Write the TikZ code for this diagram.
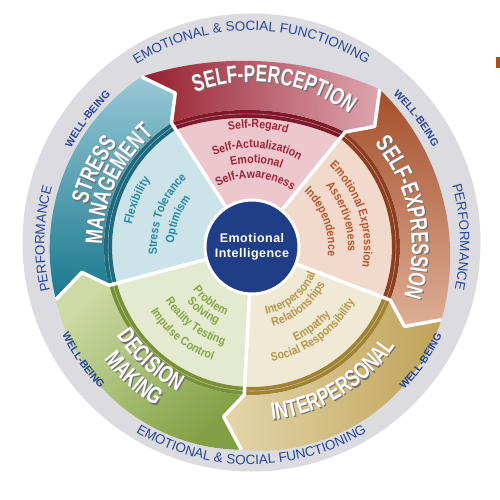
\documentclass[tikz,border=0pt]{standalone}
\usepackage{fontspec}
\setmainfont{Liberation Sans}
\newfontfamily\titlefont[FakeStretch=0.72]{Liberation Sans}
\newfontfamily\itemfont[FakeStretch=0.88]{Liberation Sans}
\usetikzlibrary{decorations.text}

\definecolor{greyband}{RGB}{220,220,224}
\definecolor{navy}{RGB}{40,70,150}
\definecolor{einavy}{RGB}{32,62,135}
\definecolor{spdark}{RGB}{150,30,45}
\definecolor{spmid}{RGB}{170,45,65}
\definecolor{splight}{RGB}{222,165,176}
\definecolor{spring}{RGB}{125,25,40}
\definecolor{spin}{RGB}{236,199,206}
\definecolor{sptext}{RGB}{160,35,55}
\definecolor{smlight}{RGB}{150,200,212}
\definecolor{smdark}{RGB}{26,120,142}
\definecolor{smring}{RGB}{30,105,125}
\definecolor{smin}{RGB}{203,227,233}
\definecolor{smtext}{RGB}{40,135,160}
\definecolor{dmlight}{RGB}{205,218,165}
\definecolor{dmdark}{RGB}{130,160,68}
\definecolor{dmring}{RGB}{120,145,55}
\definecolor{dmin}{RGB}{228,234,208}
\definecolor{dmtext}{RGB}{135,165,70}
\definecolor{iplight}{RGB}{228,214,170}
\definecolor{ipdark}{RGB}{180,146,60}
\definecolor{ipring}{RGB}{160,130,50}
\definecolor{ipin}{RGB}{239,233,213}
\definecolor{iptext}{RGB}{180,152,75}
\definecolor{sedark}{RGB}{165,78,42}
\definecolor{semid}{RGB}{178,92,52}
\definecolor{selight}{RGB}{222,175,150}
\definecolor{sering}{RGB}{140,62,30}
\definecolor{sein}{RGB}{241,217,203}
\definecolor{setext}{RGB}{180,88,45}

\newcommand{\titlefmt}{\titlefont\bfseries\fontsize{24}{24}\selectfont}
\newcommand{\itemfmt}{\itemfont\bfseries\fontsize{12}{12}\selectfont}
\newcommand{\ringfmt}{\fontsize{13.5}{14}\selectfont\color{navy}}
\newcommand{\wellfmt}{\bfseries\fontsize{10.5}{11}\selectfont\color{navy}}

% text on an arc: clockwise (tops out) and counterclockwise (tops in)
\newcommand{\cwtext}[4]{%
  \path[decorate,decoration={text along path,text align=center,text={|#3|#4}}]
    ({#1+80}:#2pt) arc[start angle={#1+80},end angle={#1-80},radius=#2pt];}
\newcommand{\ccwtext}[4]{%
  \path[decorate,decoration={text along path,text align=center,text={|#3|#4}}]
    ({#1-80}:#2pt) arc[start angle={#1-80},end angle={#1+80},radius=#2pt];}
\newcommand{\titlecw}[3]{%
  \begin{scope}[shift={(1.2,-1.2)}]\cwtext{#1}{#2}{\titlefmt\color{black!55}}{#3}\end{scope}
  \cwtext{#1}{#2}{\titlefmt\color{white}}{#3}}
\newcommand{\titleccw}[3]{%
  \begin{scope}[shift={(1.2,-1.2)}]\ccwtext{#1}{#2}{\titlefmt\color{black!55}}{#3}\end{scope}
  \ccwtext{#1}{#2}{\titlefmt\color{white}}{#3}}

% one wedge: start angle, outer radius at middle, ring dip, band shading, ring, inner colour
\newcommand{\segment}[6]{%
  \pgfmathsetmacro\segend{#1+72}
  \def\dipr##1##2{##1-#3*(1-((##2-(#1)-36)/36)^2)}
  \fill[#6] (0,0) -- plot[domain=#1:\segend,samples=30] (\x:{\dipr{140}{\x}}) -- cycle;
  \fill[#5] plot[domain=#1:\segend,samples=30] (\x:{\dipr{140}{\x}})
    -- plot[domain=\segend:#1,samples=30] (\x:{\dipr{148}{\x}}) -- cycle;
  \draw[white,opacity=.45,line width=.6pt] plot[domain=#1:\segend,samples=30] (\x:{\dipr{144}{\x}});
  \path[#4] ({#1}:148pt) -- ({#1-6.5}:172pt) -- ({#1}:203pt)
    -- plot[domain=#1:\segend,samples=30] (\x:{#2+(203-#2)*((\x-(#1)-36)/36)^2})
    -- ({#1+65.5}:172pt) -- (\segend:148pt)
    -- plot[domain=\segend:#1,samples=30] (\x:{\dipr{148}{\x}}) -- cycle;}

\begin{document}
\begin{tikzpicture}[x=1pt,y=1pt,
  sepline/.style={white,line width=3.5pt,line join=round},
  eicircle/.style={circle,fill=einavy,draw=white,line width=3pt,minimum size=94pt,
    inner sep=0pt,text=white,align=center,font=\bfseries\fontsize{12.5}{15.5}\selectfont}]
\useasboundingbox (0,0) rectangle (500,499);
\fill[white] (0,0) rectangle (500,499);
\fill[sedark] (496,431) rectangle (500,442);
\begin{scope}[shift={(252,252)}]
  \fill[greyband] (-0.5,4.5) circle[radius=229pt];
  \segment{51}{186}{11}{left color=spdark,middle color=spmid,right color=splight}{spring}{spin}
  \segment{123}{202}{0}{top color=smlight,bottom color=smdark}{smring}{smin}
  \segment{195}{206}{0}{top color=dmlight,bottom color=dmdark,shading angle=45}{dmring}{dmin}
  \segment{-93}{206}{0}{left color=iplight,middle color=ipdark,right color=ipdark!85!white}{ipring}{ipin}
  \segment{-21}{197}{0}{top color=sedark,middle color=semid,bottom color=selight}{sering}{sein}
  \foreach \b in {123,51,-21,-93,-165}
    \draw[sepline] (\b:203pt) -- ({\b-6.5}:172pt) -- (\b:148pt) -- (\b:40pt);
  \node[eicircle] (ei) at (0,0) {\addfontfeature{LetterSpace=4}Emotional\\\addfontfeature{LetterSpace=4}Intelligence};
  % outer ring words
  \begin{scope}[shift={(-0.5,4.5)}]
    \cwtext{90}{212}{\ringfmt}{EMOTIONAL {\&} SOCIAL FUNCTIONING}
    \ccwtext{270}{222}{\ringfmt}{EMOTIONAL {\&} SOCIAL FUNCTIONING}
    \cwtext{179}{207}{\ringfmt}{PERFORMANCE}
    \cwtext{1.5}{208.5}{\ringfmt}{PERFORMANCE}
    \cwtext{143}{203.5}{\wellfmt}{WELL-BEING}
    \cwtext{37}{205}{\wellfmt}{WELL-BEING}
    \ccwtext{215}{210.5}{\wellfmt}{WELL-BEING}
    \ccwtext{325}{212}{\wellfmt}{WELL-BEING}
  \end{scope}
  % composite titles
  \titlecw{82}{165}{SELF-PERCEPTION}
  \titlecw{154}{170}{STRESS}
  \titlecw{155}{150}{MANAGEMENT}
  \titlecw{11}{160}{SELF-EXPRESSION}
  \titleccw{301}{174}{INTERPERSONAL}
  \titleccw{228}{162}{DECISION}
  \titleccw{228}{186}{MAKING}
  % subscales
  \cwtext{87}{119}{\itemfmt\color{sptext}}{Self-Regard}
  \cwtext{87}{99}{\itemfmt\color{sptext}}{Self-Actualization}
  \cwtext{87}{84}{\itemfmt\color{sptext}}{Emotional}
  \cwtext{87}{69}{\itemfmt\color{sptext}}{Self-Awareness}
  \cwtext{158}{122}{\itemfmt\color{smtext}}{Flexibility}
  \cwtext{159}{95}{\itemfmt\color{smtext}}{Stress Tolerance}
  \cwtext{159.5}{78}{\itemfmt\color{smtext}}{Optimism}
  \cwtext{18}{112}{\itemfmt\color{setext}}{Emotional Expression}
  \cwtext{18.5}{96}{\itemfmt\color{setext}}{Assertiveness}
  \cwtext{20}{76}{\itemfmt\color{setext}}{Independence}
  \ccwtext{309.5}{69}{\itemfmt\color{iptext}}{Interpersonal}
  \ccwtext{309}{82}{\itemfmt\color{iptext}}{Relationships}
  \ccwtext{307}{104}{\itemfmt\color{iptext}}{Empathy}
  \ccwtext{306}{116}{\itemfmt\color{iptext}}{Social Responsibility}
  \ccwtext{232.5}{73}{\itemfmt\color{dmtext}}{Problem}
  \ccwtext{233}{85}{\itemfmt\color{dmtext}}{Solving}
  \ccwtext{233}{102}{\itemfmt\color{dmtext}}{Reality Testing}
  \ccwtext{231.5}{120}{\itemfmt\color{dmtext}}{Impulse Control}
\end{scope}
\end{tikzpicture}
\end{document}
